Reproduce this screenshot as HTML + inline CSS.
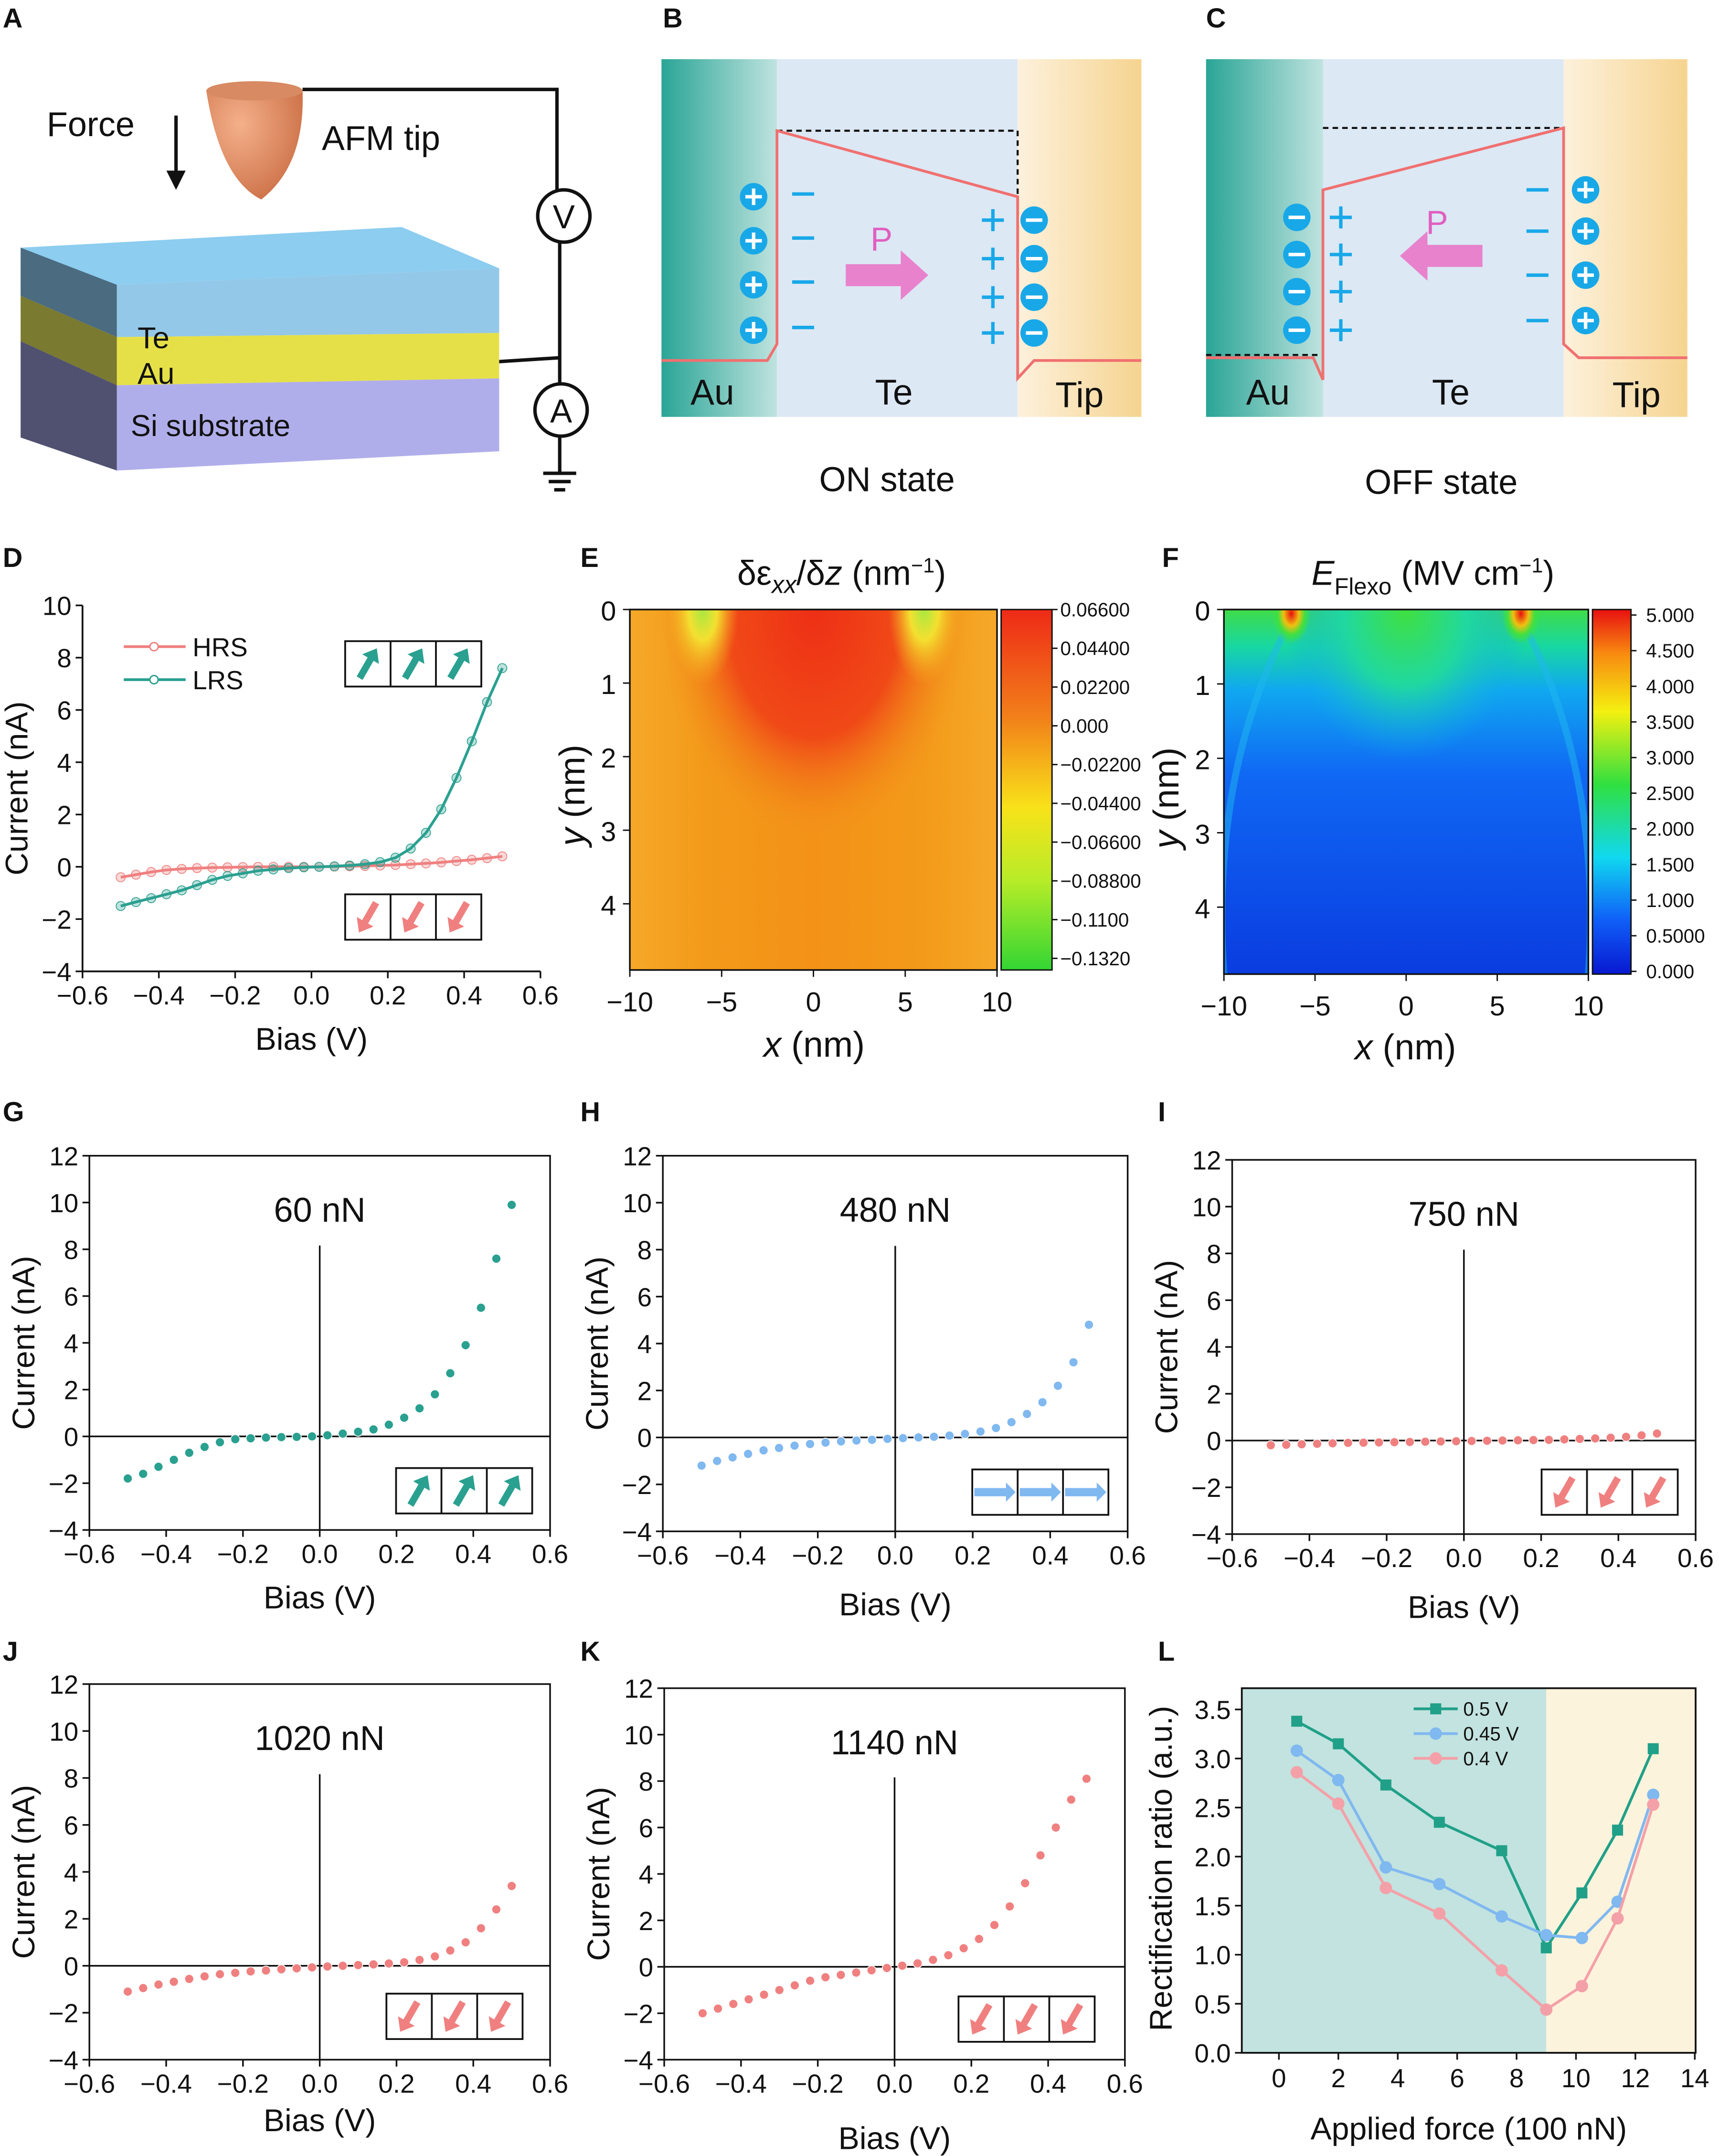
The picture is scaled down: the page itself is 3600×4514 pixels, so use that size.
<!DOCTYPE html>
<html><head><meta charset="utf-8"><style>
html,body{margin:0;padding:0;background:#fff}
svg{display:block}
text{font-family:"Liberation Sans",Arial,sans-serif;fill:#111}
</style></head><body>
<svg id="fig" xmlns="http://www.w3.org/2000/svg" width="3600" height="4514" viewBox="0 0 1250 1567" preserveAspectRatio="none">
<defs>
<clipPath id="clipE"><rect x="458" y="443" width="267" height="262"/></clipPath>
<clipPath id="clipF"><rect x="890" y="443" width="265" height="265"/></clipPath>
<linearGradient id="auG" x1="0" x2="1"><stop offset="0" stop-color="#2aa596"/><stop offset="1" stop-color="#bfe3df"/></linearGradient>
<linearGradient id="tipG" x1="0" x2="1"><stop offset="0" stop-color="#fdf1dc"/><stop offset="1" stop-color="#f6d490"/></linearGradient>
<radialGradient id="tipBody" cx="0.35" cy="0.35" r="0.8"><stop offset="0" stop-color="#f4b08a"/><stop offset="1" stop-color="#c86a40"/></radialGradient>
<linearGradient id="cbE" x1="0" y1="0" x2="0" y2="1"><stop offset="0" stop-color="#ee2a17"/><stop offset="0.3" stop-color="#f2801a"/><stop offset="0.55" stop-color="#f8e21a"/><stop offset="0.75" stop-color="#b8ec28"/><stop offset="1" stop-color="#33d633"/></linearGradient>
<linearGradient id="cbF" x1="0" y1="0" x2="0" y2="1"><stop offset="0" stop-color="#e81010"/><stop offset="0.12" stop-color="#f88a10"/><stop offset="0.28" stop-color="#f4f010"/><stop offset="0.48" stop-color="#30e040"/><stop offset="0.68" stop-color="#10d8f0"/><stop offset="0.85" stop-color="#1060f8"/><stop offset="1" stop-color="#0818d0"/></linearGradient>
<radialGradient id="eRed" cx="0.5" cy="0.5" r="0.5"><stop offset="0" stop-color="#ee2f16"/><stop offset="0.55" stop-color="#f04a17"/><stop offset="1" stop-color="#f39a1a" stop-opacity="0"/></radialGradient>
<radialGradient id="eYel" cx="0.5" cy="0.5" r="0.5"><stop offset="0" stop-color="#a8e840"/><stop offset="0.4" stop-color="#f4e030"/><stop offset="1" stop-color="#f6b020" stop-opacity="0"/></radialGradient>
<linearGradient id="eBase" x1="0" y1="0" x2="1" y2="0"><stop offset="0" stop-color="#f6a828"/><stop offset="0.2" stop-color="#f39a1a"/><stop offset="0.5" stop-color="#f39217"/><stop offset="0.8" stop-color="#f39a1a"/><stop offset="1" stop-color="#f6a828"/></linearGradient>
<linearGradient id="fBase" x1="0" y1="0" x2="0" y2="1"><stop offset="0" stop-color="#40dc48"/><stop offset="0.1" stop-color="#18d8a0"/><stop offset="0.22" stop-color="#10a8f0"/><stop offset="0.45" stop-color="#1068f4"/><stop offset="1" stop-color="#0a3ce0"/></linearGradient>
<radialGradient id="fGreen" cx="0.5" cy="0.5" r="0.5"><stop offset="0" stop-color="#40e040"/><stop offset="0.5" stop-color="#20d8a0"/><stop offset="1" stop-color="#10a8f0" stop-opacity="0"/></radialGradient>
<radialGradient id="fRed" cx="0.5" cy="0.5" r="0.5"><stop offset="0" stop-color="#e81010"/><stop offset="0.4" stop-color="#f0c010"/><stop offset="0.7" stop-color="#40e040"/><stop offset="1" stop-color="#40e040" stop-opacity="0"/></radialGradient>
</defs>

<!-- Panel A -->
<g>
<text x="2" y="20" font-size="20" font-weight="bold">A</text>
<text x="34" y="99" font-size="25">Force</text>
<line x1="128" y1="84" x2="128" y2="126" stroke="#111" stroke-width="2.5"/>
<polygon points="121,124 135,124 128,138" fill="#111"/>
<path d="M150,66 Q185,56 220,66 Q222,120 190,145 Q160,130 150,66 Z" fill="url(#tipBody)"/>
<ellipse cx="185" cy="66" rx="35" ry="7" fill="#d88a62"/>
<text x="234" y="109" font-size="25">AFM tip</text>
<polyline points="220,65 405,65 405,138" fill="none" stroke="#111" stroke-width="2.5"/>
<circle cx="410" cy="157" r="19" fill="#fff" stroke="#111" stroke-width="2.5"/>
<text x="410" y="166" font-size="24" text-anchor="middle">V</text>
<line x1="407" y1="176" x2="407" y2="279" stroke="#111" stroke-width="2.5"/>
<circle cx="408" cy="298" r="19" fill="#fff" stroke="#111" stroke-width="2.5"/>
<text x="408" y="307" font-size="24" text-anchor="middle">A</text>
<line x1="407" y1="317" x2="407" y2="344" stroke="#111" stroke-width="2.5"/>
<g stroke="#111" stroke-width="2.5"><line x1="395" y1="344" x2="419" y2="344"/><line x1="399" y1="350" x2="415" y2="350"/><line x1="403" y1="356" x2="411" y2="356"/></g>
<line x1="360" y1="263" x2="407" y2="260" stroke="#111" stroke-width="2.5"/>
<polygon points="15,180 292,165 363,195 85,207" fill="#8ccdf0"/>
<polygon points="15,180 85,207 85,245 15,215" fill="#4a6b80"/>
<polygon points="15,215 85,245 85,280 15,248" fill="#7a7a30"/>
<polygon points="15,248 85,280 85,342 15,318" fill="#505070"/>
<polygon points="85,207 363,195 363,242 85,245" fill="#94c8e8"/>
<polygon points="85,245 363,242 363,275 85,280" fill="#e6e048"/>
<polygon points="85,280 363,275 363,328 85,342" fill="#b0aeea"/>
<text x="100" y="253" font-size="22">Te</text>
<text x="100" y="279" font-size="22">Au</text>
<text x="95" y="317" font-size="22">Si substrate</text>
</g>

<!-- Panel B -->
<g>
<text x="482" y="20" font-size="20" font-weight="bold">B</text>
<rect x="481" y="43" width="84" height="260" fill="url(#auG)"/>
<rect x="565" y="43" width="175" height="260" fill="#dce8f4"/>
<rect x="740" y="43" width="90" height="260" fill="url(#tipG)"/>
<polyline points="565,95 740,95 740,262" fill="none" stroke="#111" stroke-dasharray="4,3" stroke-width="1.5"/>
<polyline points="481,262 558,262 565,250 565,95 740,143 740,275 752,262 830,262" fill="none" stroke="#f07070" stroke-width="2"/>
<polygon points="615,192 655,192 655,182 675,200 655,218 655,208 615,208" fill="#e882cc"/>
<text x="641" y="182" font-size="24" text-anchor="middle" style="fill:#e060c0">P</text>
<text x="518" y="294" font-size="26" text-anchor="middle">Au</text>
<text x="650" y="294" font-size="26" text-anchor="middle">Te</text>
<text x="785" y="296" font-size="26" text-anchor="middle">Tip</text>
<text x="645" y="357" font-size="25" text-anchor="middle">ON state</text>
<g id="bcharges"></g>
</g>

<!-- Panel C -->
<g>
<text x="877" y="20" font-size="20" font-weight="bold">C</text>
<rect x="877" y="43" width="85" height="260" fill="url(#auG)"/>
<rect x="962" y="43" width="175" height="260" fill="#dce8f4"/>
<rect x="1137" y="43" width="90" height="260" fill="url(#tipG)"/>
<polyline points="877,258 958,258" fill="none" stroke="#111" stroke-dasharray="4,3" stroke-width="1.5"/>
<polyline points="962,93 1137,93" fill="none" stroke="#111" stroke-dasharray="4,3" stroke-width="1.5"/>
<polyline points="877,260 955,260 962,276 962,138 1137,93 1137,250 1148,260 1227,260" fill="none" stroke="#f07070" stroke-width="2"/>
<polygon points="1078,178 1038,178 1038,168 1018,186 1038,204 1038,194 1078,194" fill="#e882cc"/>
<text x="1045" y="170" font-size="24" text-anchor="middle" style="fill:#e060c0">P</text>
<text x="922" y="294" font-size="26" text-anchor="middle">Au</text>
<text x="1055" y="294" font-size="26" text-anchor="middle">Te</text>
<text x="1190" y="296" font-size="26" text-anchor="middle">Tip</text>
<text x="1048" y="359" font-size="25" text-anchor="middle">OFF state</text>
<g id="ccharges"></g>
</g>

<!-- Panel labels -->
<text x="2" y="412" font-size="20" font-weight="bold">D</text>
<text x="422" y="412" font-size="20" font-weight="bold">E</text>
<text x="845" y="412" font-size="20" font-weight="bold">F</text>
<text x="2" y="815" font-size="20" font-weight="bold">G</text>
<text x="422" y="815" font-size="20" font-weight="bold">H</text>
<text x="842" y="815" font-size="20" font-weight="bold">I</text>
<text x="2" y="1207" font-size="20" font-weight="bold">J</text>
<text x="422" y="1207" font-size="20" font-weight="bold">K</text>
<text x="842" y="1207" font-size="20" font-weight="bold">L</text>

<!-- Panel E -->
<g>
<text x="612" y="425" font-size="25" text-anchor="middle">δε<tspan font-style="italic" font-size="18" dy="6">xx</tspan><tspan dy="-6">/δ</tspan><tspan font-style="italic">z</tspan> (nm<tspan font-size="15" dy="-9">−1</tspan><tspan dy="9">)</tspan></text>
<g clip-path="url(#clipE)">
<rect x="458" y="443" width="267" height="262" fill="url(#eBase)"/>
<ellipse cx="592" cy="443" rx="115" ry="170" fill="url(#eRed)"/>
<ellipse cx="511" cy="443" rx="26" ry="55" fill="url(#eYel)"/>
<ellipse cx="672" cy="443" rx="26" ry="55" fill="url(#eYel)"/>
</g>
<rect x="458" y="443" width="267" height="262" fill="none" stroke="#111" stroke-width="1.2"/>
<rect x="728" y="443" width="37" height="262" fill="url(#cbE)" stroke="#111"/>
<g id="eax"></g>
<text x="592" y="768" font-size="26" text-anchor="middle"><tspan font-style="italic">x</tspan> (nm)</text>
<text x="0" y="0" font-size="26" text-anchor="middle" transform="translate(425,578) rotate(-90)"><tspan font-style="italic">y</tspan> (nm)</text>
</g>

<!-- Panel F -->
<g>
<text x="1042" y="425" font-size="25" text-anchor="middle"><tspan font-style="italic">E</tspan><tspan font-size="17" dy="7">Flexo</tspan><tspan dy="-7"> (MV cm</tspan><tspan font-size="15" dy="-9">−1</tspan><tspan dy="9">)</tspan></text>
<g clip-path="url(#clipF)">
<rect x="890" y="443" width="265" height="265" fill="url(#fBase)"/>
<ellipse cx="1022" cy="443" rx="90" ry="110" fill="url(#fGreen)"/>
<path d="M939,450 Q880,560 890,708" fill="none" stroke="#20b8f0" stroke-width="5" opacity="0.5"/>
<path d="M1106,450 Q1165,560 1155,708" fill="none" stroke="#20b8f0" stroke-width="5" opacity="0.5"/>
<ellipse cx="939" cy="446" rx="14" ry="22" fill="url(#fRed)"/>
<ellipse cx="1106" cy="446" rx="14" ry="22" fill="url(#fRed)"/>
</g>
<rect x="890" y="443" width="265" height="265" fill="none" stroke="#111" stroke-width="1.2"/>
<rect x="1158" y="443" width="28" height="265" fill="url(#cbF)" stroke="#111"/>
<g id="fax"></g>
<text x="1022" y="770" font-size="26" text-anchor="middle"><tspan font-style="italic">x</tspan> (nm)</text>
<text x="0" y="0" font-size="26" text-anchor="middle" transform="translate(857,580) rotate(-90)"><tspan font-style="italic">y</tspan> (nm)</text>
</g>

<g id="charts"></g>
</svg>
<script>
// ---- IV data ----
const bias = [-0.50,-0.46,-0.42,-0.38,-0.34,-0.30,-0.26,-0.22,-0.18,-0.14,-0.10,-0.06,-0.02,0.02,0.06,0.10,0.14,0.18,0.22,0.26,0.30,0.34,0.38,0.42,0.46,0.50];
const dHRS = [-0.4,-0.3,-0.2,-0.12,-0.08,-0.05,-0.03,-0.02,-0.01,0,0,0,0,0,0.01,0.02,0.03,0.05,0.07,0.1,0.13,0.17,0.22,0.27,0.33,0.4];
const dLRS = [-1.5,-1.35,-1.2,-1.05,-0.9,-0.7,-0.5,-0.35,-0.25,-0.15,-0.1,-0.05,-0.02,0,0.02,0.05,0.1,0.18,0.35,0.7,1.3,2.2,3.4,4.8,6.3,7.6];
const g60 = [-1.8,-1.6,-1.3,-1.0,-0.7,-0.45,-0.25,-0.12,-0.08,-0.05,-0.03,-0.02,0.0,0.05,0.12,0.2,0.3,0.5,0.8,1.2,1.8,2.7,3.9,5.5,7.6,9.9];
const h480 = [-1.2,-1.0,-0.85,-0.7,-0.55,-0.45,-0.35,-0.28,-0.22,-0.17,-0.13,-0.1,-0.06,-0.03,0,0.03,0.08,0.15,0.25,0.4,0.65,1.0,1.5,2.2,3.2,4.8];
const i750 = [-0.2,-0.18,-0.16,-0.14,-0.12,-0.1,-0.09,-0.08,-0.07,-0.06,-0.05,-0.04,-0.03,-0.02,-0.01,0,0.01,0.02,0.03,0.05,0.07,0.09,0.12,0.16,0.22,0.3];
const j1020 = [-1.1,-0.95,-0.8,-0.68,-0.56,-0.45,-0.36,-0.3,-0.24,-0.2,-0.15,-0.11,-0.07,-0.03,0,0.03,0.06,0.1,0.15,0.25,0.4,0.65,1.0,1.6,2.4,3.4];
const k1140 = [-2.0,-1.8,-1.6,-1.4,-1.2,-1.0,-0.8,-0.6,-0.45,-0.35,-0.25,-0.15,-0.05,0.05,0.15,0.3,0.5,0.8,1.2,1.8,2.6,3.6,4.8,6.0,7.2,8.1];
const xTicksIV = [-0.6,-0.4,-0.2,0.0,0.2,0.4,0.6];
const xTickLabelsIV = ["−0.6","−0.4","−0.2","0.0","0.2","0.4","0.6"];
// ---- L data ----
const forceL = [0.6,2.0,3.6,5.4,7.5,9.0,10.2,11.4,12.6];
const r05 = [3.38,3.15,2.73,2.35,2.06,1.07,1.63,2.27,3.10];
const r045 = [3.08,2.78,1.89,1.72,1.39,1.20,1.17,1.54,2.63];
const r04 = [2.86,2.54,1.68,1.42,0.84,0.44,0.68,1.37,2.53];
const lxTicks = [0,2,4,6,8,10,12,14];
const lyTicks = [0.0,0.5,1.0,1.5,2.0,2.5,3.0,3.5];
// ---- heatmap axes ----
const eXTicks = [-10,-5,0,5,10];
const eYTicks = [0,1,2,3,4];
const eCbLabels = ["0.06600","0.04400","0.02200","0.000","−0.02200","−0.04400","−0.06600","−0.08800","−0.1100","−0.1320"];
const fCbLabels = ["5.000","4.500","4.000","3.500","3.000","2.500","2.000","1.500","1.000","0.5000","0.000"];

const NS = "http://www.w3.org/2000/svg";
function el(parent, tag, attrs, name) {
  const e = document.createElementNS(NS, tag);
  for (const k in attrs) e.setAttribute(k, attrs[k]);
  
  
  parent.appendChild(e);
  return e;
}
function txt(parent, x, y, s, size, anchor, name) {
  const t = el(parent, 'text', {x:x, y:y, 'font-size':size, 'text-anchor':anchor||'middle'}, name);
  t.textContent = s;
  return t;
}
const charts = document.getElementById('charts');
const TEAL = '#2aa090', PINK = '#f08080', BLUE = '#80b8f0';

const bc = document.getElementById('bcharges');
function circSign(g, x, y, sign, name) {
  el(g, 'circle', {cx:x, cy:y, r:10, fill:'#18a8e8'}, name + '-circle');
  el(g, 'line', {x1:x-6, y1:y, x2:x+6, y2:y, stroke:'#fff', 'stroke-width':2.5}, name + '-h');
  if (sign > 0) el(g, 'line', {x1:x, y1:y-6, x2:x, y2:y+6, stroke:'#fff', 'stroke-width':2.5}, name + '-v');
}
function plainSign(g, x, y, sign, name) {
  el(g, 'line', {x1:x-8, y1:y, x2:x+8, y2:y, stroke:'#18a8e8', 'stroke-width':2.5}, name + '-h');
  if (sign > 0) el(g, 'line', {x1:x, y1:y-8, x2:x, y2:y+8, stroke:'#18a8e8', 'stroke-width':2.5}, name + '-v');
}
[143,175,207,240].forEach((y,i)=>{ circSign(bc,548,y,1,'bound-plus-'+i); plainSign(bc,584,y-2,-1,'screen-minus-'+i); });
[160,188,216,242].forEach((y,i)=>{ plainSign(bc,722,y,1,'screen-plus-'+i); circSign(bc,752,y,-1,'bound-minus-'+i); });
const cc = document.getElementById('ccharges');
[158,185,212,240].forEach((y,i)=>{ circSign(cc,943,y,-1,'c-bound-minus-'+i); plainSign(cc,975,y,1,'c-screen-plus-'+i); });
[138,168,200,233].forEach((y,i)=>{ plainSign(cc,1118,y,-1,'c-screen-minus-'+i); circSign(cc,1153,y,1,'c-bound-plus-'+i); });

function inset(x, y, dir, color) {
  const g = el(charts, 'g', {}, 'polarization-inset');
  el(g, 'rect', {x:x, y:y, width:99, height:33, fill:'#fff', stroke:'#111', 'stroke-width':1.3}, 'inset-frame');
  for (let i = 0; i < 3; i++) {
    const cx = x + 16.5 + i*33, cy = y + 16.5;
    if (i > 0) el(g, 'line', {x1:x+i*33, y1:y, x2:x+i*33, y2:y+33, stroke:'#111', 'stroke-width':1.3}, 'inset-divider');
    let ang = dir === 'up' ? -60 : dir === 'down' ? 120 : 0;
    const a = el(g, 'g', {transform:`translate(${cx},${cy}) rotate(${ang})`}, 'inset-arrow');
    if (dir === 'right') {
      el(a, 'polygon', {points:'-15,-3 8,-3 8,-7 15,0 8,7 8,3 -15,3', fill:color}, 'arrow-shape');
    } else {
      el(a, 'polygon', {points:'-12,-2.5 4,-2.5 4,-7 13,0 4,7 4,2.5 -12,2.5', fill:color}, 'arrow-shape');
    }
  }
}

function ivPanel(o) {
  const g = el(charts, 'g', {}, o.name);
  const X = v => o.x0 + (v - (-0.6)) / 1.2 * (o.x1 - o.x0);
  const Y = v => o.y1 - (v - (-4)) / (o.ymax + 4) * (o.y1 - o.y0);
  if (o.cross) {
    el(g, 'line', {x1:o.x0, y1:Y(0), x2:o.x1, y2:Y(0), stroke:'#111', 'stroke-width':1.2}, 'zero-line-h');
    el(g, 'line', {x1:X(0), y1:o.y0 + (o.y1-o.y0)*0.24, x2:X(0), y2:o.y1, stroke:'#111', 'stroke-width':1.2}, 'zero-line-v');
    el(g, 'rect', {x:o.x0, y:o.y0, width:o.x1-o.x0, height:o.y1-o.y0, fill:'none', stroke:'#111', 'stroke-width':1.2}, 'plot-frame');
  } else {
    el(g, 'polyline', {points:`${o.x0},${o.y0} ${o.x0},${o.y1} ${o.x1},${o.y1}`, fill:'none', stroke:'#111', 'stroke-width':1.3}, 'axis-lines');
  }
  xTicksIV.forEach((v,i) => {
    el(g, 'line', {x1:X(v), y1:o.y1, x2:X(v), y2:o.y1+5, stroke:'#111', 'stroke-width':1.2}, 'x-tick');
    txt(g, X(v), o.y1+24, xTickLabelsIV[i], 19, 'middle', 'x-tick-label');
  });
  for (let v = -4; v <= o.ymax; v += 2) {
    el(g, 'line', {x1:o.x0-5, y1:Y(v), x2:o.x0, y2:Y(v), stroke:'#111', 'stroke-width':1.2}, 'y-tick');
    txt(g, o.x0-8, Y(v)+7, v < 0 ? '−' + (-v) : '' + v, 19, 'end', 'y-tick-label');
  }
  txt(g, (o.x0+o.x1)/2, o.y1 + 57 + (o.xtDy||0), 'Bias (V)', 23, 'middle', 'x-axis-title');
  const yt = txt(g, 0, 0, 'Current (nA)', 23, 'middle', 'y-axis-title');
  yt.setAttribute('transform', `translate(${o.x0-40},${(o.y0+o.y1)/2}) rotate(-90)`);
  if (o.title) txt(g, X(0), o.y0 + 48, o.title, 25, 'middle', 'panel-title');
  o.series.forEach(s => {
    const pts = bias.map((b,i) => X(b).toFixed(1) + ',' + Y(s.data[i]).toFixed(1)).join(' ');
    if (s.line) {
      const pl = el(g, 'polyline', {points:pts, fill:'none', stroke:s.color, 'stroke-width':2}, 'series-line');
      
    }
    bias.forEach((b,i) => {
      const c = el(g, 'circle', {cx:X(b), cy:Y(s.data[i]), r:3.3, fill:s.color, stroke:s.line?s.color:'#fff', 'stroke-width':0.6, 'fill-opacity':s.line?0.3:1}, 'point');
      
    });
  });
  return {X, Y, g};
}

const D = ivPanel({name:'panel-d', x0:60, x1:393, y0:440, y1:706, ymax:10, series:[{name:'hrs',data:dHRS,color:PINK,line:true},{name:'lrs',data:dLRS,color:TEAL,line:true}]});
el(D.g, 'line', {x1:90, y1:470, x2:135, y2:470, stroke:PINK, 'stroke-width':2}, 'legend-hrs-line');
el(D.g, 'circle', {cx:112, cy:470, r:3, fill:'#fff', stroke:PINK}, 'legend-hrs-marker');
txt(D.g, 140, 477, 'HRS', 19, 'start', 'legend-hrs-label');
el(D.g, 'line', {x1:90, y1:494, x2:135, y2:494, stroke:TEAL, 'stroke-width':2}, 'legend-lrs-line');
el(D.g, 'circle', {cx:112, cy:494, r:3, fill:'#fff', stroke:TEAL}, 'legend-lrs-marker');
txt(D.g, 140, 501, 'LRS', 19, 'start', 'legend-lrs-label');
inset(251, 466, 'up', TEAL);
inset(251, 650, 'down', PINK);

ivPanel({name:'panel-g', x0:65, x1:400, y0:840, y1:1112, ymax:12, cross:true, title:'60 nN', series:[{name:'iv-60nN',data:g60,color:TEAL}]});
inset(288, 1067, 'up', TEAL);
ivPanel({name:'panel-h', x0:482, x1:820, y0:840, y1:1113, ymax:12, cross:true, title:'480 nN', series:[{name:'iv-480nN',data:h480,color:BLUE}], xtDy:4});
inset(707, 1068, 'right', BLUE);
ivPanel({name:'panel-i', x0:896, x1:1233, y0:843, y1:1115, ymax:12, cross:true, title:'750 nN', series:[{name:'iv-750nN',data:i750,color:PINK}], xtDy:4});
inset(1121, 1068, 'down', PINK);
ivPanel({name:'panel-j', x0:65, x1:400, y0:1224, y1:1497, ymax:12, cross:true, title:'1020 nN', series:[{name:'iv-1020nN',data:j1020,color:PINK}], xtDy:-5});
inset(281, 1449, 'down', PINK);
ivPanel({name:'panel-k', x0:483, x1:818, y0:1227, y1:1497, ymax:12, cross:true, title:'1140 nN', series:[{name:'iv-1140nN',data:k1140,color:PINK}], xtDy:8});
inset(697, 1451, 'down', PINK);

(function(){
  const g = el(charts, 'g', {}, 'panel-l');
  const x0=903, x1=1233, y0=1227, y1=1492;
  const X = v => 930 + v * 21.6;
  const Y = v => y1 - v * 71.3;
  el(g, 'rect', {x:x0, y:y0, width:X(9)-x0, height:y1-y0, fill:'#c2e3df'}, 'low-force-region');
  el(g, 'rect', {x:X(9), y:y0, width:x1-X(9), height:y1-y0, fill:'#fcf3dc'}, 'high-force-region');
  el(g, 'rect', {x:x0, y:y0, width:x1-x0, height:y1-y0, fill:'none', stroke:'#111', 'stroke-width':1.3}, 'plot-frame');
  lxTicks.forEach(v => {
    el(g, 'line', {x1:X(v), y1:y1, x2:X(v), y2:y1+5, stroke:'#111', 'stroke-width':1.2}, 'x-tick');
    txt(g, X(v), y1+25, ''+v, 19, 'middle', 'x-tick-label');
  });
  lyTicks.forEach(v => {
    el(g, 'line', {x1:x0-5, y1:Y(v), x2:x0, y2:Y(v), stroke:'#111', 'stroke-width':1.2}, 'y-tick');
    txt(g, x0-8, Y(v)+7, v.toFixed(1), 19, 'end', 'y-tick-label');
  });
  txt(g, 1068, 1555, 'Applied force (100 nN)', 23, 'middle', 'x-axis-title');
  const yt = txt(g, 0, 0, 'Rectification ratio (a.u.)', 23, 'middle', 'y-axis-title');
  yt.setAttribute('transform', `translate(852,1358) rotate(-90)`);
  const series = [{n:'0.5 V', d:r05, c:'#20a088', sq:true},{n:'0.45 V', d:r045, c:'#80b8f0'},{n:'0.4 V', d:r04, c:'#f4a0a8'}];
  series.forEach((s, si) => {
    const pts = forceL.map((f,i)=>X(f)+','+Y(s.d[i])).join(' ');
    const pl = el(g, 'polyline', {points:pts, fill:'none', stroke:s.c, 'stroke-width':2}, 'series-line');
    
    forceL.forEach((f,i) => {
      const m = s.sq ? el(g, 'rect', {x:X(f)-4, y:Y(s.d[i])-4, width:8, height:8, fill:s.c}, 'point')
                     : el(g, 'circle', {cx:X(f), cy:Y(s.d[i]), r:4.5, fill:s.c}, 'point');
      
    });
    const ly = 1242 + si*18;
    el(g, 'line', {x1:1028, y1:ly, x2:1060, y2:ly, stroke:s.c, 'stroke-width':2}, 'legend-line');
    if (s.sq) el(g, 'rect', {x:1040, y:ly-4, width:8, height:8, fill:s.c}, 'legend-marker');
    else el(g, 'circle', {cx:1044, cy:ly, r:4.5, fill:s.c}, 'legend-marker');
    txt(g, 1064, ly+5, s.n, 14, 'start', 'legend-label');
  });
})();

(function(){
  const g = document.getElementById('eax');
  const X = v => 458 + (v+10)/20*267;
  const Y = v => 443 + v/4.9*262;
  eXTicks.forEach(v => { el(g,'line',{x1:X(v),y1:705,x2:X(v),y2:710,stroke:'#111'},'x-tick'); txt(g, X(v), 735, v<0?'−'+(-v):''+v, 20, 'middle', 'x-tick-label'); });
  eYTicks.forEach(v => { el(g,'line',{x1:453,y1:Y(v),x2:458,y2:Y(v),stroke:'#111'},'y-tick'); txt(g, 448, Y(v)+8, ''+v, 20, 'end', 'y-tick-label'); });
  eCbLabels.forEach((s,i) => { const y = 443 + i*(262/9.3); el(g,'line',{x1:765,y1:y,x2:769,y2:y,stroke:'#111'},'cb-tick'); txt(g, 771, y+5, s, 14, 'start', 'cb-label'); });
  const f = document.getElementById('fax');
  const FX = v => 890 + (v+10)/20*265;
  const FY = v => 443 + v/4.9*265;
  eXTicks.forEach(v => { el(f,'line',{x1:FX(v),y1:708,x2:FX(v),y2:713,stroke:'#111'},'x-tick'); txt(f, FX(v), 738, v<0?'−'+(-v):''+v, 20, 'middle', 'x-tick-label'); });
  eYTicks.forEach(v => { el(f,'line',{x1:885,y1:FY(v),x2:890,y2:FY(v),stroke:'#111'},'y-tick'); txt(f, 880, FY(v)+8, ''+v, 20, 'end', 'y-tick-label'); });
  fCbLabels.forEach((s,i) => { const y = 447 + i*(259/10); el(f,'line',{x1:1186,y1:y,x2:1190,y2:y,stroke:'#111'},'cb-tick'); txt(f, 1197, y+5, s, 14, 'start', 'cb-label'); });
})();
</script>
</body></html>
